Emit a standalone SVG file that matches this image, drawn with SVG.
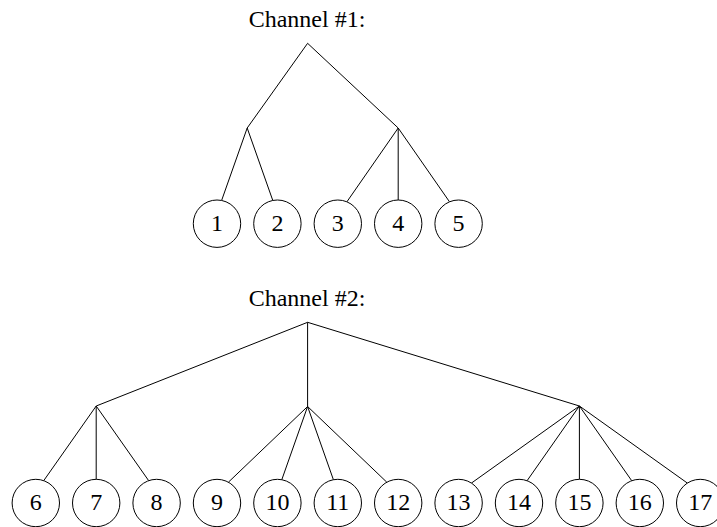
<svg xmlns="http://www.w3.org/2000/svg" width="717" height="527" viewBox="0 0 717 527">
<style>
.bg{fill:#ffffff}
.e{stroke:#000;stroke-width:1;fill:none}
.n circle{fill:#fff;stroke:#000;stroke-width:1}
text{font-family:"Liberation Serif","Times New Roman",serif;font-size:24px;fill:#000;text-anchor:middle}
</style>
<rect class="bg" x="0" y="0" width="717" height="527"/>
<text id="title1" x="307" y="26.5">Channel #1:</text>
<text id="title2" x="307" y="305.5">Channel #2:</text>
<g id="connectors" class="e">
<line x1="307.6" y1="43.3" x2="247.2" y2="128"/>
<line x1="307.6" y1="43.3" x2="398.2" y2="128"/>
<line x1="247.2" y1="128" x2="221.6" y2="200.5"/>
<line x1="247.2" y1="128" x2="272.8" y2="200.5"/>
<line x1="398.2" y1="128" x2="346.9" y2="201.8"/>
<line x1="398.2" y1="128" x2="398.2" y2="200"/>
<line x1="398.2" y1="128" x2="449.5" y2="201.8"/>
<line x1="307.6" y1="322.3" x2="96.2" y2="406"/>
<line x1="307.6" y1="322.3" x2="307.6" y2="406.5"/>
<line x1="307.6" y1="322.3" x2="579.4" y2="406"/>
<line x1="96.2" y1="406" x2="43.7" y2="480.7"/>
<line x1="96.2" y1="406" x2="96.2" y2="479.3"/>
<line x1="96.2" y1="406" x2="148.7" y2="480.7"/>
<line x1="307.6" y1="406.5" x2="228.4" y2="482.2"/>
<line x1="307.6" y1="406.5" x2="281.8" y2="479.7"/>
<line x1="307.6" y1="406.5" x2="333.4" y2="479.7"/>
<line x1="307.6" y1="406.5" x2="386.8" y2="482.2"/>
<line x1="579.4" y1="406" x2="471.4" y2="483.1"/>
<line x1="579.4" y1="406" x2="527.1" y2="480.7"/>
<line x1="579.4" y1="406" x2="579.4" y2="479.3"/>
<line x1="579.4" y1="406" x2="631.7" y2="480.7"/>
<line x1="579.4" y1="406" x2="687.4" y2="483.1"/>
</g>
<g id="n1" class="n"><circle cx="217" cy="223.7" r="23.7"/><text x="217" y="230.7">1</text></g>
<g id="n2" class="n"><circle cx="277.4" cy="223.7" r="23.7"/><text x="277.4" y="230.7">2</text></g>
<g id="n3" class="n"><circle cx="337.8" cy="223.7" r="23.7"/><text x="337.8" y="230.7">3</text></g>
<g id="n4" class="n"><circle cx="398.2" cy="223.7" r="23.7"/><text x="398.2" y="230.7">4</text></g>
<g id="n5" class="n"><circle cx="458.6" cy="223.7" r="23.7"/><text x="458.6" y="230.7">5</text></g>
<g id="n6" class="n"><circle cx="35.8" cy="503" r="23.7"/><text x="35.8" y="510">6</text></g>
<g id="n7" class="n"><circle cx="96.2" cy="503" r="23.7"/><text x="96.2" y="510">7</text></g>
<g id="n8" class="n"><circle cx="156.6" cy="503" r="23.7"/><text x="156.6" y="510">8</text></g>
<g id="n9" class="n"><circle cx="217" cy="503" r="23.7"/><text x="217" y="510">9</text></g>
<g id="n10" class="n"><circle cx="277.4" cy="503" r="23.7"/><text x="277.4" y="510">10</text></g>
<g id="n11" class="n"><circle cx="337.8" cy="503" r="23.7"/><text x="337.8" y="510">11</text></g>
<g id="n12" class="n"><circle cx="398.2" cy="503" r="23.7"/><text x="398.2" y="510">12</text></g>
<g id="n13" class="n"><circle cx="458.6" cy="503" r="23.7"/><text x="458.6" y="510">13</text></g>
<g id="n14" class="n"><circle cx="519" cy="503" r="23.7"/><text x="519" y="510">14</text></g>
<g id="n15" class="n"><circle cx="579.4" cy="503" r="23.7"/><text x="579.4" y="510">15</text></g>
<g id="n16" class="n"><circle cx="639.8" cy="503" r="23.7"/><text x="639.8" y="510">16</text></g>
<g id="n17" class="n"><circle cx="700.2" cy="503" r="23.7"/><text x="700.2" y="510">17</text></g>
</svg>
